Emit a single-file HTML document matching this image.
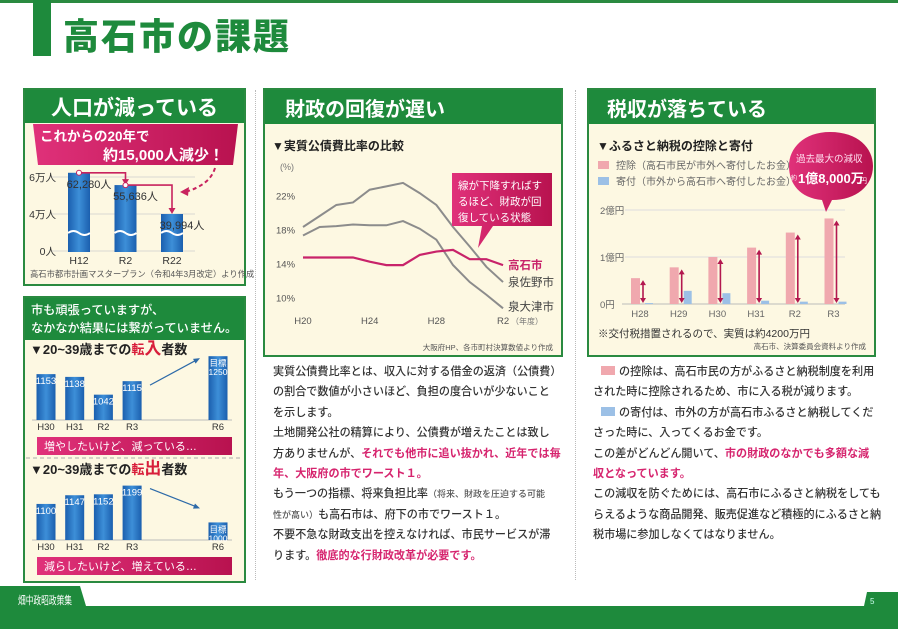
<!DOCTYPE html>
<html><head><meta charset="utf-8">
<style>
*{margin:0;padding:0;box-sizing:border-box}
body{width:898px;height:629px;overflow:hidden;background:#fff;position:relative;font-family:"Liberation Sans","Noto Sans CJK JP",sans-serif;color:#333}
.abs{position:absolute}
.panel{position:absolute;background:#fdf8e2;border:2px solid #2a8a40}
.hdr{position:absolute;left:0;top:0;right:0;background:#1e8a3c;color:#fff;font-weight:bold;display:flex;align-items:center}
.para{position:absolute;font-size:11.1px;line-height:20.4px;color:#333;font-weight:500;white-space:nowrap}
.pk{color:#d6246e;font-weight:bold}
svg text{font-family:"Liberation Sans","Noto Sans CJK JP",sans-serif}
</style></head><body>
<div class="abs" style="left:0;top:0;width:898px;height:3px;background:#2a8a40"></div>
<div class="abs" style="left:33px;top:0;width:18px;height:56px;background:#1e8a3c"></div>
<div class="abs" style="left:63px;top:8px;font-size:36px;font-weight:900;color:#1e8a3c;letter-spacing:2px">高石市の課題</div>

<div class="panel" style="left:23px;top:88px;width:223px;height:198px">
 <div class="hdr" style="height:33px;justify-content:center;font-size:21px">人口が減っている</div>
</div>
<div class="panel" style="left:23px;top:296px;width:223px;height:287px">
 <div class="hdr" style="height:42px;font-size:12.2px;line-height:18px;padding-left:6px;font-weight:500;white-space:nowrap">市も頑張っていますが、<br>なかなか結果には繋がっていません。</div>
</div>
<div class="panel" style="left:263px;top:88px;width:300px;height:269px">
 <div class="hdr" style="height:34px;font-size:20px;padding-left:20px">財政の回復が遅い</div>
</div>
<div class="panel" style="left:587px;top:88px;width:289px;height:269px">
 <div class="hdr" style="height:34px;font-size:20px;padding-left:18px">税収が落ちている</div>
</div>

<div class="abs" style="left:255px;top:90px;height:490px;border-left:1px dotted #bbb"></div>
<div class="abs" style="left:575px;top:90px;height:490px;border-left:1px dotted #bbb"></div>

<svg class="abs" style="left:0;top:0" width="898" height="629">
<defs>
<linearGradient id="bl" x1="0" x2="1"><stop offset="0" stop-color="#1b5fae"/><stop offset=".5" stop-color="#3d8fd8"/><stop offset="1" stop-color="#1b5fae"/></linearGradient>
<linearGradient id="pg" x1="0" x2="1"><stop offset="0" stop-color="#e0317a"/><stop offset="1" stop-color="#b8124f"/></linearGradient>
</defs>
<g id="pop"></g><g id="mig"></g><g id="debt"></g><g id="tax"></g>
</svg>

<div class="para" style="left:273px;top:362px">実質公債費比率とは、収入に対する借金の返済（公債費）<br>の割合で数値が小さいほど、負担の度合いが少ないこと<br>を示します。<br>土地開発公社の精算により、公債費が増えたことは致し<br>方ありませんが、<span class="pk">それでも他市に追い抜かれ、近年では毎</span><br><span class="pk">年、大阪府の市でワースト１。</span><br>もう一つの指標、将来負担比率<span style="font-size:9px;color:#555">（将来、財政を圧迫する可能</span><br><span style="font-size:9px;color:#555">性が高い）</span>も高石市は、府下の市でワースト１。<br>不要不急な財政支出を控えなければ、市民サービスが滞<br>ります。<span class="pk">徹底的な行財政改革が必要です。</span></div>

<div class="para" style="left:593px;top:362px"><span style="display:inline-block;width:14px;height:9px;background:#f0a8ae;margin:0 4px 0 8px"></span>の控除は、高石市民の方がふるさと納税制度を利用<br>された時に控除されるため、市に入る税が減ります。<br><span style="display:inline-block;width:14px;height:9px;background:#9cc0e6;margin:0 4px 0 8px"></span>の寄付は、市外の方が高石市ふるさと納税してくだ<br>さった時に、入ってくるお金です。<br>この差がどんどん開いて、<span class="pk">市の財政のなかでも多額な減</span><br><span class="pk">収となっています。</span><br>この減収を防ぐためには、高石市にふるさと納税をしても<br>らえるような商品開発、販売促進など積極的にふるさと納<br>税市場に参加しなくてはなりません。</div>

<svg class="abs" style="left:0;top:584px" width="898" height="45">
<path d="M0 2 L80 2 L86 22 L864 22 L867 8 L898 8 L898 45 L0 45 Z" fill="#1e8a3c"/>
<text x="18" y="20" fill="#fff" font-size="11" textLength="54" lengthAdjust="spacingAndGlyphs">畑中政昭政策集</text>
<text x="870" y="20" fill="#cfe" font-size="8">5</text>
</svg>

<script>
const NS='http://www.w3.org/2000/svg';
function el(p,t,a,txt){const e=document.createElementNS(NS,t);for(const k in a)e.setAttribute(k,a[k]);if(txt!==undefined)e.textContent=txt;p.appendChild(e);return e;}

const popCats=['H12','R2','R22'];
const popVals=[62280,55636,39994];
const popLabels=['62,280人','55,636人','39,994人'];
const popTicks=[['6万人',60000],['4万人',40000],['0人',0]];
(function(){
 const g=document.getElementById('pop');
 const py=v=>v>=40000?214-(v-40000)*18.5/10000:251-v*37/40000;
 const px=i=>79+i*46.5;
 let b=el(g,'path',{d:'M33 124 H238 L233 165 H38 Z',fill:'url(#pg)'});
 
 el(g,'text',{x:40,y:141,fill:'#fff','font-size':13.5,'font-weight':'bold'},'これからの20年で');
 el(g,'text',{x:103,y:160,fill:'#fff','font-size':15,'font-weight':'bold'},'約15,000人減少！');
 popTicks.forEach(t=>{const y=py(t[1]);el(g,'line',{x1:52,x2:195,y1:y,y2:y,stroke:'#ccc','stroke-width':.7});
  const tx=el(g,'text',{x:56,y:y+4,'font-size':10.5,'text-anchor':'end',fill:'#333'},t[0]);
  });
 popVals.forEach((v,i)=>{const x=px(i),y=py(v);
  const r=el(g,'rect',{x:x-11,y:y,width:22,height:252-y,fill:'url(#bl)'});
  
  el(g,'path',{d:`M${x-11} 233 q5.5 -4 11 0 t11 0`,stroke:'#fff','stroke-width':2,fill:'none'});
  el(g,'text',{x:x+10,y:y+15,'font-size':11,'text-anchor':'middle',fill:'#333'},popLabels[i]);
  el(g,'text',{x:x,y:264,'font-size':10.5,'text-anchor':'middle',fill:'#333'},popCats[i]);
  if(i<2){const nx=px(i+1),ny=py(popVals[i+1]);el(g,'path',{d:`M${x} ${y} H${nx} V${ny-4}`,stroke:'#c8235e','stroke-width':1.6,fill:'none'});
   el(g,'path',{d:`M${nx-3.5} ${ny-6} L${nx+3.5} ${ny-6} L${nx} ${ny}Z`,fill:'#c8235e'});
   el(g,'circle',{cx:x,cy:y,r:2.5,fill:'#fff',stroke:'#c8235e'});}
 });
 el(g,'path',{d:'M215 168 Q210 185 185 192',stroke:'#c8235e','stroke-width':2,'stroke-dasharray':'4 3',fill:'none'});
 el(g,'path',{d:'M180 192 L189 187 L188 196Z',fill:'#c8235e'});
 el(g,'text',{x:30,y:277,'font-size':8.3,fill:'#555'},'高石市都市計画マスタープラン（令和4年3月改定）より作成');
})();

const migCats=['H30','H31','R2','R3','R6'];
const inVals=[1153,1138,1042,1115,1250];
const outVals=[1100,1147,1152,1199,1000];
(function(){
 const g=document.getElementById('mig');
 const px=i=>i<4?46+i*28.7:218;
 function chart(vals,base,hl,banner,pref,trendUp){
  const t=el(g,'text',{x:30,y:base-66,'font-size':13,'font-weight':'bold',fill:'#222'});
  el(t,'tspan',{},'▼20~39歳までの');
  el(t,'tspan',{fill:'#d81e3b'},'転');
  el(t,'tspan',{fill:'#d81e3b','font-size':17},hl);
  el(t,'tspan',{},'者数');
  el(g,'line',{x1:32,x2:232,y1:base,y2:base,stroke:'#bbb'});
  vals.forEach((v,i)=>{const x=px(i),hh=(v-905)*0.185,y=base-hh;
   const r=el(g,'rect',{x:x-9.5,y:y,width:19,height:hh,fill:'url(#bl)'});
   
   if(i<4) el(g,'text',{x:x,y:y+10,'font-size':9.5,'text-anchor':'middle',fill:'#fff'},String(v));
   else{el(g,'text',{x:x,y:y+10,'font-size':8.5,'text-anchor':'middle',fill:'#fff'},'目標');el(g,'text',{x:x,y:y+19,'font-size':8.5,'text-anchor':'middle',fill:'#fff'},String(v));}
   el(g,'text',{x:x,y:base+10,'font-size':9.5,'text-anchor':'middle',fill:'#333'},migCats[i]);
  });
  const y3=base-(vals[3]-905)*0.185,y4=base-(vals[4]-905)*0.185;
  const sy=trendUp?y3+4:y3+3, ey=trendUp?y4+3:y4-15;
  el(g,'line',{x1:150,y1:sy,x2:198,y2:ey,stroke:'#2d6aa8','stroke-width':1.2});
  const a=Math.atan2(ey-sy,48);
  el(g,'path',{d:`M${200} ${ey+ (trendUp?-1:1)} l${-7*Math.cos(a-0.4)} ${-7*Math.sin(a-0.4)} l${7*Math.cos(a-0.4)-7*Math.cos(a+0.4)} ${7*Math.sin(a-0.4)-7*Math.sin(a+0.4)}Z`,fill:'#2d6aa8'});
  const bb=el(g,'rect',{x:37,y:base+17,width:195,height:18,fill:'url(#pg)'});
  
  el(g,'text',{x:44,y:base+30,'font-size':11,fill:'#fff'},banner);
 }
 chart(inVals,420,'入','増やしたいけど、減っている…','move-in',true);
 el(g,'line',{x1:26,x2:243,y1:458,y2:458,stroke:'#aaa','stroke-dasharray':'4 3'});
 chart(outVals,540,'出','減らしたいけど、増えている…','move-out',false);
})();

const debtYears=['H20','H21','H22','H23','H24','H25','H26','H27','H28','H29','H30','R1','R2'];
const takaishi=[14.7,14.7,14.7,14.7,14.2,13.8,13.8,15.0,15.4,15.6,14.5,14.5,13.8];
const izumisano=[18.3,19.6,20.9,21.2,22.7,23.1,23.5,22.3,20.9,18.3,16.0,13.6,11.8];
const izumiotsu=[17.3,18.3,18.4,18.6,18.5,18.5,19.0,18.1,16.8,13.8,11.8,10.3,8.7];
const debtTicks=[22,18,14,10];
const debtXTicks=['H20','H24','H28','R2'];
(function(){
 const g=document.getElementById('debt');
 const px=i=>303+i*16.67, py=v=>297.3-(v-10)*8.47;
 el(g,'text',{x:272,y:150,'font-size':12,'font-weight':'bold',fill:'#222'},'▼実質公債費比率の比較');
 el(g,'text',{x:280,y:170,'font-size':9,fill:'#777'},'(%)');
 debtTicks.forEach(t=>{const tx=el(g,'text',{x:276,y:py(t)+4,'font-size':9.5,fill:'#555'},t+'%');
  });
 debtXTicks.forEach(t=>{const i=debtYears.indexOf(t);el(g,'text',{x:px(i),y:324,'font-size':9.5,'text-anchor':'middle',fill:'#555'},t);});
 el(g,'text',{x:511,y:324,'font-size':8,fill:'#777'},'（年度）');
 function line(vals,col,w,name){const p=el(g,'polyline',{points:vals.map((v,i)=>px(i)+','+py(v)).join(' '),fill:'none',stroke:col,'stroke-width':w});
  }
 line(izumisano,'#8c8c8c',2,'izumisano-line');
 line(izumiotsu,'#8c8c8c',2,'izumiotsu-line');
 line(takaishi,'#c8236a',2.2,'takaishi-line');
 el(g,'text',{x:508,y:py(takaishi[12])+4,'font-size':11.5,'font-weight':'bold',fill:'#c8236a'},'高石市');
 el(g,'text',{x:508,y:py(izumisano[12])+4,'font-size':11.5,fill:'#444'},'泉佐野市');
 el(g,'text',{x:508,y:py(izumiotsu[12])+2,'font-size':11.5,fill:'#444'},'泉大津市');
 const c=el(g,'path',{d:'M452 173 H552 V226 H493 L478 248 L482 226 H452 Z',fill:'url(#pg)'});
 
 ['線が下降すればす','るほど、財政が回','復している状態'].forEach((s,i)=>el(g,'text',{x:458,y:189+i*16,'font-size':10.5,fill:'#fff'},s));
 el(g,'text',{x:553,y:350,'font-size':7.5,'text-anchor':'end',fill:'#555'},'大阪府HP、各市町村決算数値より作成');
})();

const taxCats=['H28','H29','H30','H31','R2','R3'];
const deduction=[0.55,0.78,1.0,1.2,1.52,1.82];
const donation=[0.02,0.28,0.23,0.07,0.05,0.05];
const taxTicks=[['2億円',2],['1億円',1],['0円',0]];
(function(){
 const g=document.getElementById('tax');
 const px=i=>640+i*38.7, py=v=>304-v*47;
 el(g,'text',{x:597,y:150,'font-size':12,'font-weight':'bold',fill:'#222'},'▼ふるさと納税の控除と寄付');
 el(g,'rect',{x:598,y:161,width:11,height:8,fill:'#f0a8ae'});
 el(g,'text',{x:616,y:169,'font-size':10,fill:'#666'},'控除（高石市民が市外へ寄付したお金）');
 el(g,'rect',{x:598,y:177,width:11,height:8,fill:'#9cc0e6'});
 el(g,'text',{x:616,y:185,'font-size':10,fill:'#666'},'寄付（市外から高石市へ寄付したお金）');
 taxTicks.forEach(t=>{const y=py(t[1]);el(g,'line',{x1:625,x2:845,y1:y,y2:y,stroke:'#ddd'});
  const tx=el(g,'text',{x:600,y:y+4,'font-size':9.5,fill:'#666'},t[0]);
  });
 el(g,'line',{x1:622,x2:845,y1:304,y2:304,stroke:'#bbb'});
 deduction.forEach((v,i)=>{const x=px(i);
  const r=el(g,'rect',{x:x-9,y:py(v),width:9,height:v*47,fill:'#f0a8ae'});
  
  const d=donation[i];
  const b=el(g,'rect',{x:x+5,y:py(d),width:8,height:d*47,fill:'#9cc0e6'});
  
  const ax=x+3,y1=py(v)+2,y2=303;
  el(g,'line',{x1:ax,x2:ax,y1:y1+3,y2:y2-3,stroke:'#b3184f','stroke-width':1.6});
  el(g,'path',{d:`M${ax-3} ${y1+5} L${ax} ${y1} L${ax+3} ${y1+5}Z M${ax-3} ${y2-5} L${ax} ${y2} L${ax+3} ${y2-5}Z`,fill:'#b3184f'});
  el(g,'text',{x:x,y:317,'font-size':9.5,'text-anchor':'middle',fill:'#666'},taxCats[i]);
 });
 const bub=el(g,'path',{d:'M830 132 C858 132 873 148 873 166 C873 186 856 200 832 200 L826 212 L822 200 C800 198 789 184 789 166 C789 148 804 132 830 132Z',fill:'url(#pg)'});
 
 el(g,'text',{x:796,y:162,'font-size':9.5,fill:'#fde'},'過去最大の減収');
 el(g,'text',{x:791,y:180,'font-size':6,fill:'#fff'},'約');
 el(g,'text',{x:798,y:183,'font-size':13,'font-weight':'bold',fill:'#fff'},'1億8,000万');
 el(g,'text',{x:860,y:183,'font-size':7,fill:'#fff'},'円');
 el(g,'text',{x:598,y:337,'font-size':10.5,fill:'#333'},'※交付税措置されるので、実質は約4200万円');
 el(g,'text',{x:866,y:349,'font-size':7.5,'text-anchor':'end',fill:'#555'},'高石市、決算委員会資料より作成');
})();
</script>
</body></html>
